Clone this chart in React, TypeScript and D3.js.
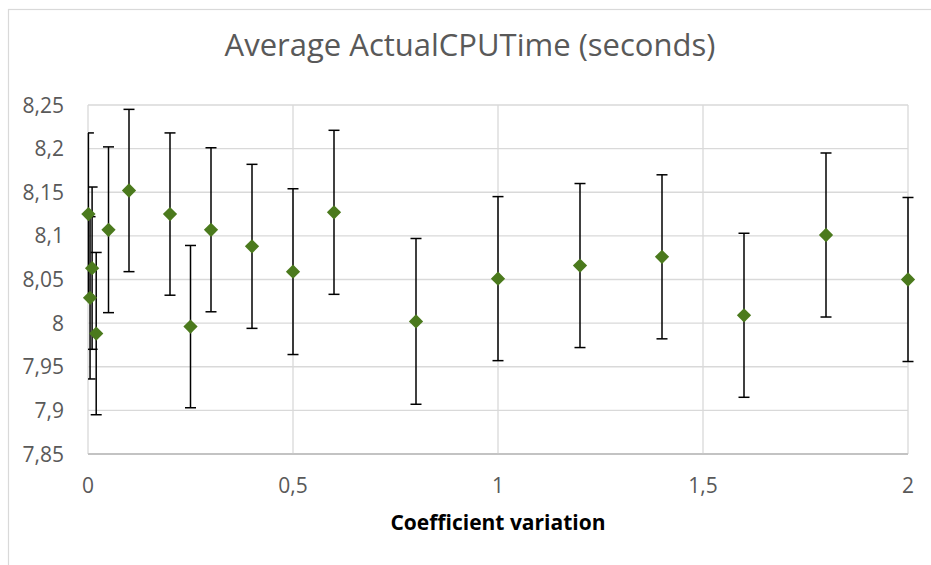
import * as d3 from "d3";
import React from "react";

// coefficient of variation (x) vs. average ActualCPUTime, with error bar half-widths
const coefVar = [0.001, 0.005, 0.01, 0.02, 0.05, 0.1, 0.2, 0.25, 0.3, 0.4, 0.5, 0.6, 0.8, 1, 1.2, 1.4, 1.6, 1.8, 2];
const avgTime = [8.125, 8.029, 8.063, 7.988, 8.107, 8.152, 8.125, 7.996, 8.107, 8.088, 8.059, 8.127, 8.002, 8.051, 8.066, 8.076, 8.009, 8.101, 8.05];
const errTime = [0.093, 0.093, 0.093, 0.093, 0.095, 0.093, 0.093, 0.093, 0.094, 0.094, 0.095, 0.094, 0.095, 0.094, 0.094, 0.094, 0.094, 0.094, 0.094];

const xTicks = [0, 0.5, 1, 1.5, 2];
const yTicks = [7.85, 7.9, 7.95, 8, 8.05, 8.1, 8.15, 8.2, 8.25];

const title = "Average ActualCPUTime (seconds)";
const xTitle = "Coefficient variation";

const width = 931;
const height = 565;
const plot = { left: 88, right: 908, top: 105, bottom: 454 };

const fmt = d3
    .formatLocale({ decimal: ",", thousands: ".", grouping: [3], currency: ["", "€"] })
    .format("~f");

const font = "'Open Sans', 'Noto Sans', sans-serif";

export default function App() {
    const xScale = d3.scaleLinear().domain([0, 2]).range([plot.left, plot.right]);
    const yScale = d3.scaleLinear().domain([7.85, 8.25]).range([plot.bottom, plot.top]);

    const points = coefVar.map((x, i) => ({ x, y: avgTime[i], e: errTime[i] }));
    const diamond = d3.symbol().type(d3.symbolDiamond2).size(130)();
    const cap = 5.5;

    return (
        <svg
            width={width}
            height={height}
            style={{ position: "absolute", left: 0, top: 0, background: "#fff" }}
        >
            <rect x={8.5} y={9.5} width={940} height={570} fill="#fff" stroke="#d9d9d9" strokeWidth={1.2} />

            <text x={470} y={56} textAnchor="middle" fontFamily={font} fontSize={31} fill="#595959">
                {title}
            </text>

            {/* gridlines */}
            {yTicks.map((t) => (
                <line
                    key={"gy" + t}
                    x1={plot.left}
                    x2={plot.right}
                    y1={yScale(t)}
                    y2={yScale(t)}
                    stroke={t === 7.85 ? "#bfbfbf" : "#d9d9d9"}
                    strokeWidth={1.3}
                />
            ))}
            {xTicks.map((t) => (
                <line
                    key={"gx" + t}
                    x1={xScale(t)}
                    x2={xScale(t)}
                    y1={plot.top}
                    y2={plot.bottom}
                    stroke="#d9d9d9"
                    strokeWidth={1.3}
                />
            ))}
            <line x1={plot.left} x2={plot.right} y1={plot.bottom} y2={plot.bottom} stroke="#bfbfbf" strokeWidth={1.5} />

            {/* tick labels */}
            {yTicks.map((t) => (
                <text
                    key={"ty" + t}
                    x={64}
                    y={yScale(t)}
                    dy="0.36em"
                    textAnchor="end"
                    fontFamily={font}
                    fontSize={21}
                    fill="#595959"
                >
                    {fmt(t)}
                </text>
            ))}
            {xTicks.map((t) => (
                <text
                    key={"tx" + t}
                    x={xScale(t)}
                    y={493}
                    textAnchor="middle"
                    fontFamily={font}
                    fontSize={21}
                    fill="#595959"
                >
                    {fmt(t)}
                </text>
            ))}

            <text
                x={(plot.left + plot.right) / 2}
                y={530}
                textAnchor="middle"
                fontFamily={font}
                fontSize={21}
                fontWeight="bold"
                fill="#000"
            >
                {xTitle}
            </text>

            {/* error bars */}
            {points.map((p, i) => {
                const x = xScale(p.x);
                const y0 = yScale(p.y - p.e);
                const y1 = yScale(p.y + p.e);
                return (
                    <g key={"e" + i} stroke="#000" strokeWidth={1.5}>
                        <line x1={x} x2={x} y1={y0} y2={y1} />
                        <line x1={Math.max(x - cap, plot.left)} x2={x + cap} y1={y0} y2={y0} />
                        <line x1={Math.max(x - cap, plot.left)} x2={x + cap} y1={y1} y2={y1} />
                    </g>
                );
            })}

            {/* markers */}
            {points.map((p, i) => (
                <path
                    key={"m" + i}
                    d={diamond || undefined}
                    transform={`translate(${xScale(p.x)},${yScale(p.y)})`}
                    fill="#4b7a1d"
                />
            ))}
        </svg>
    );
}
